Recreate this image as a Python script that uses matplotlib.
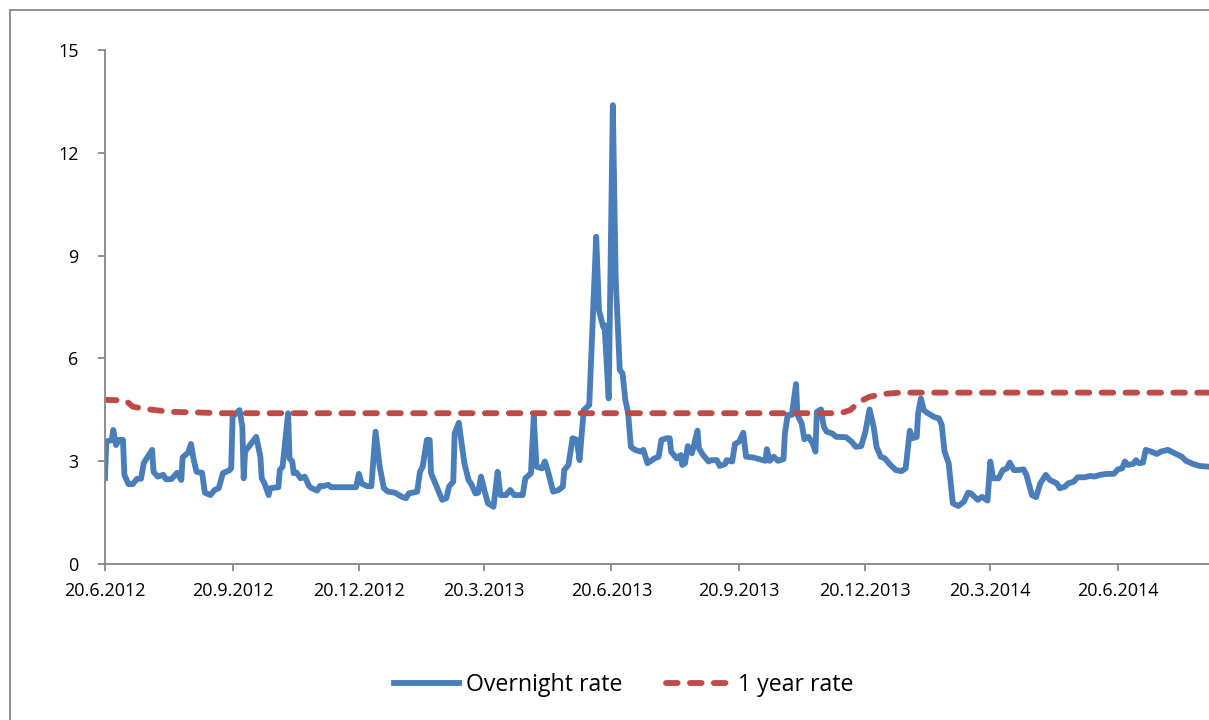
import datetime as dt
import matplotlib
matplotlib.use('Agg')
import matplotlib.pyplot as plt
from matplotlib.patches import Rectangle

# day offsets from 20.6.2012 and the rates
start = dt.datetime(2012, 6, 20)

on_days = [0, 1, 5, 6, 8, 10, 13, 14, 17, 20, 23, 26, 28, 34, 35, 38, 42, 44, 48,
           52, 55, 56, 60, 62, 64, 66, 70, 72, 76, 79, 82, 85, 90, 91, 92, 97, 99,
           100, 101, 109, 112, 113, 115, 118, 119, 125, 126, 128, 132, 133, 135,
           136, 138, 141, 144, 147, 149, 153, 155, 157, 161, 163, 181, 183, 185,
           189, 192, 195, 198, 201, 204, 209, 214, 217, 219, 225, 227, 229, 232,
           234, 235, 239, 243, 246, 248, 251, 252, 255, 257, 259, 262, 264, 267,
           269, 271, 274, 276, 280, 283, 285, 289, 292, 295, 301, 303, 307, 309,
           311, 315, 317, 319, 323, 327, 330, 331, 334, 337, 340, 342, 345, 349,
           354, 356, 359, 360, 363, 366, 368, 371, 373, 375, 377, 379, 382, 386,
           388, 391, 396, 399, 401, 405, 407, 408, 412, 415, 416, 418, 420, 423,
           427, 428, 431, 435, 437, 441, 443, 447, 448, 452, 454, 457, 460, 462,
           467, 476, 477, 479, 482, 485, 489, 490, 492, 495, 498, 499, 502, 504,
           507, 510, 512, 513, 516, 518, 520, 524, 527, 534, 538, 541, 545, 548,
           551, 554, 556, 559, 562, 566, 570, 574, 577, 580, 582, 585, 586, 588,
           590, 593, 598, 601, 603, 605, 608, 609, 611, 615, 619, 622, 624, 629,
           632, 636, 638, 640, 644, 647, 650, 652, 655, 658, 662, 664, 668, 671,
           674, 678, 681, 686, 688, 692, 694, 698, 701, 706, 710, 713, 717, 722,
           727, 730, 733, 735, 737, 741, 743, 745, 748, 750, 754, 758, 761, 764,
           766, 770, 776, 779, 784, 789, 795]
overnight = [2.51, 3.57, 3.62, 3.91, 3.47, 3.62, 3.62, 2.60, 2.33, 2.33, 2.48, 2.49,
             2.95, 3.33, 2.69, 2.55, 2.60, 2.47, 2.48, 2.66, 2.45, 3.11, 3.25, 3.50,
             3.03, 2.69, 2.66, 2.08, 2.01, 2.16, 2.21, 2.65, 2.74, 2.80, 4.30, 4.49,
             4.01, 2.50, 3.28, 3.71, 3.13, 2.50, 2.35, 2.01, 2.21, 2.24, 2.74, 2.84,
             4.40, 3.08, 2.99, 2.65, 2.67, 2.50, 2.55, 2.28, 2.21, 2.14, 2.28, 2.27,
             2.31, 2.24, 2.24, 2.63, 2.35, 2.27, 2.27, 3.86, 2.84, 2.21, 2.11, 2.08,
             1.96, 1.92, 2.06, 2.11, 2.69, 2.84, 3.62, 3.62, 2.65, 2.26, 1.87, 1.92,
             2.26, 2.40, 3.81, 4.12, 3.52, 2.94, 2.45, 2.33, 2.06, 2.08, 2.55, 2.06,
             1.77, 1.67, 2.69, 2.01, 2.01, 2.16, 2.01, 2.01, 2.50, 2.65, 4.30, 2.84,
             2.79, 2.99, 2.74, 2.11, 2.16, 2.26, 2.74, 2.89, 3.67, 3.62, 3.03, 4.49,
             4.64, 9.55, 7.41, 6.92, 6.97, 4.83, 13.39, 8.38, 5.66, 5.56, 4.79, 4.40,
             3.42, 3.33, 3.28, 3.33, 2.94, 3.08, 3.13, 3.62, 3.67, 3.67, 3.28, 3.08,
             3.18, 2.89, 2.94, 3.44, 3.23, 3.89, 3.38, 3.18, 2.99, 3.03, 3.03, 2.86,
             2.92, 3.03, 2.99, 3.50, 3.57, 3.83, 3.13, 3.11, 3.01, 3.35, 3.01, 3.13,
             3.01, 3.06, 3.81, 4.35, 4.35, 5.25, 4.35, 4.11, 3.64, 3.71, 3.52, 3.28,
             4.44, 4.51, 4.01, 3.86, 3.81, 3.71, 3.70, 3.57, 3.42, 3.44, 3.86, 4.51,
             3.99, 3.42, 3.13, 3.08, 2.89, 2.74, 2.71, 2.79, 3.89, 3.67, 3.71, 4.40,
             4.83, 4.49, 4.40, 4.28, 4.25, 4.06, 3.28, 2.94, 2.55, 1.77, 1.69, 1.82,
             2.08, 2.06, 1.87, 1.96, 1.85, 2.99, 2.50, 2.50, 2.74, 2.79, 2.96, 2.74,
             2.74, 2.76, 2.60, 2.01, 1.95, 2.35, 2.60, 2.45, 2.35, 2.21, 2.26, 2.35,
             2.40, 2.53, 2.53, 2.57, 2.55, 2.60, 2.63, 2.63, 2.76, 2.79, 2.99, 2.89,
             2.92, 3.03, 2.94, 2.96, 3.33, 3.28, 3.21, 3.28, 3.31, 3.33, 3.25, 3.13,
             3.01, 2.92, 2.86, 2.84]

yr_days = [0, 15, 20, 30, 47, 68, 83, 530, 537, 544, 551, 561, 573, 795]
one_year = [4.79, 4.77, 4.59, 4.52, 4.44, 4.42, 4.40, 4.40, 4.49, 4.74, 4.88, 4.96,
            5.00, 5.00]

tick_labels = ['20.6.2012', '20.9.2012', '20.12.2012', '20.3.2013', '20.6.2013',
               '20.9.2013', '20.12.2013', '20.3.2014', '20.6.2014']

on_dates = [start + dt.timedelta(days=d) for d in on_days]
yr_dates = [start + dt.timedelta(days=d) for d in yr_days]
tick_dates = [dt.datetime.strptime(s, '%d.%m.%Y') for s in tick_labels]

plt.rcParams['font.family'] = ['Open Sans', 'DejaVu Sans']
gray = '#868686'

fig = plt.figure(figsize=(12.09, 7.2), dpi=100)
ax = fig.add_axes([0.0868, 0.2167, 0.9132, 0.7139])

ax.plot(on_dates, overnight, color='#4A7EBB', lw=4.2, solid_joinstyle='round',
        label='Overnight rate')
ax.plot(yr_dates, one_year, color='#BE4B48', lw=4.2, dashes=(2.0, 2.1),
        dash_capstyle='round', label='1 year rate')

ax.set_ylim(0, 15)
ax.set_yticks([0, 3, 6, 9, 12, 15])
ax.set_xlim(start, start + dt.timedelta(days=795.6))
ax.set_xticks(tick_dates)
ax.set_xticklabels(tick_labels)

for s in ['top', 'right']:
    ax.spines[s].set_visible(False)
for s in ['left', 'bottom']:
    ax.spines[s].set_color(gray)
    ax.spines[s].set_linewidth(1.3)
ax.tick_params(axis='both', colors=gray, labelcolor='black', labelsize=13,
               length=5, width=1.3, direction='out')
ax.tick_params(axis='y', pad=14)
ax.tick_params(axis='x', pad=8)

# chart frame, cut off on the right and bottom like the source
fig.add_artist(Rectangle((10 / 1209, -0.1), 1.2, 0.986 + 0.1,
                         transform=fig.transFigure, fill=False,
                         edgecolor=gray, lw=1.3))

fig.legend(loc='center', bbox_to_anchor=(0.516, 0.049), ncol=2, frameon=False,
           fontsize=16.7, handlelength=2.8, columnspacing=1.9, handletextpad=0.3)

fig.savefig('out.png', dpi=100, facecolor='white')
